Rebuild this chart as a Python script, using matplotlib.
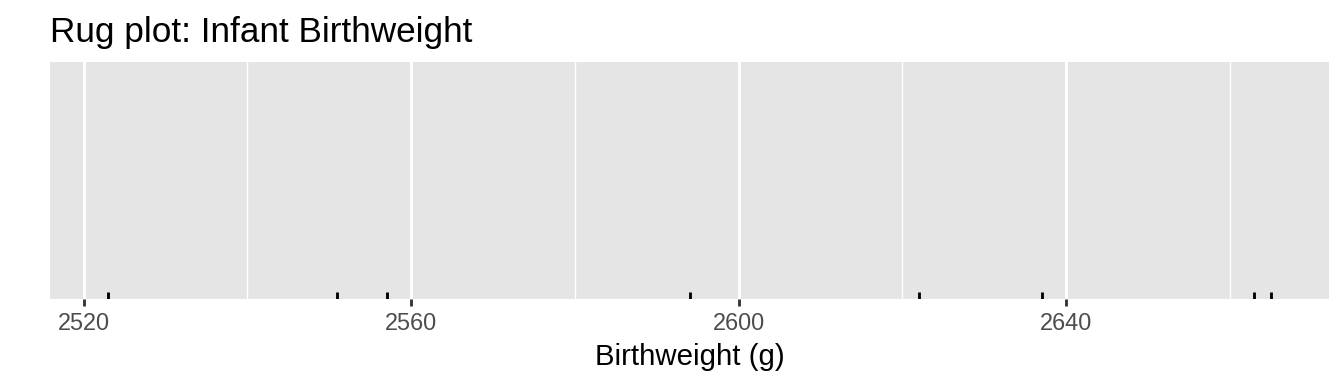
import matplotlib.pyplot as plt

# birthweights (g)
birthweight = [2523, 2551, 2557, 2594, 2622, 2637, 2663, 2665]
major_breaks = [2520, 2560, 2600, 2640]
minor_breaks = [2540, 2580, 2620, 2660]

plt.rcParams['font.family'] = ['Liberation Sans', 'DejaVu Sans']

fig = plt.figure(figsize=(7, 2), dpi=192)
ax = fig.add_axes([50 / 1344, 1 - 299 / 384, (1329 - 50) / 1344, (299 - 62) / 384])

ax.set_facecolor('#e5e5e5')
for s in ax.spines.values():
    s.set_visible(False)

lo, hi = min(birthweight), max(birthweight)
pad = (hi - lo) * 0.05
ax.set_xlim(lo - pad, hi + pad)
ax.set_ylim(0, 1)

for b in minor_breaks:
    ax.axvline(b, color='white', linewidth=0.53, zorder=1)
for b in major_breaks:
    ax.axvline(b, color='white', linewidth=1.07, zorder=1)

# rug ticks along the bottom, 3% of panel height
for v in birthweight:
    ax.plot([v, v], [0, 0.03], color='black', linewidth=1.07, zorder=3,
            solid_capstyle='butt')

ax.set_xticks(major_breaks)
ax.set_xticklabels([str(b) for b in major_breaks])
ax.set_yticks([])
ax.tick_params(axis='x', length=2.75, width=1.07, color='#333333',
               labelcolor='#4d4d4d', labelsize=8.8, pad=2.2)
ax.set_xlabel('Birthweight (g)', fontsize=11, color='black', labelpad=2.75)

fig.text(50 / 1344, 1 - 42 / 384, 'Rug plot: Infant Birthweight',
         fontsize=13.2, color='black', ha='left', va='baseline')

fig.savefig('out.png', dpi=192)
